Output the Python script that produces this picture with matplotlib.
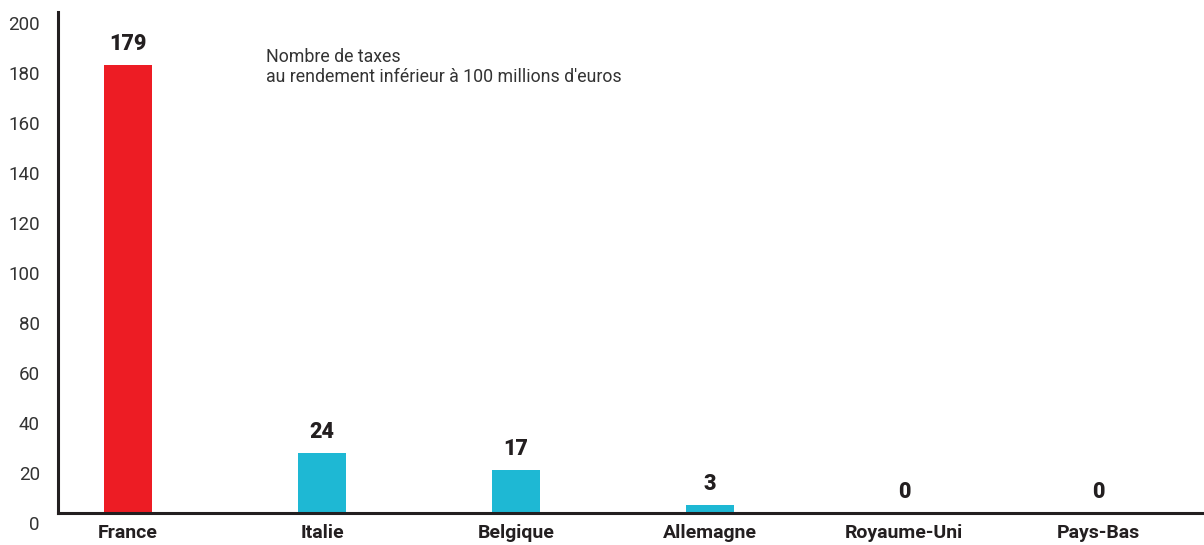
import numpy as np
import matplotlib
matplotlib.use("Agg")
import matplotlib.pyplot as plt
import matplotlib.transforms as mtransforms

# Données
pays = ["France", "Italie", "Belgique", "Allemagne", "Royaume-Uni", "Pays-Bas"]
nb_taxes = [179, 24, 17, 3, 0, 0]
couleurs = ["#ED1C24", "#1EB8D4", "#1EB8D4", "#1EB8D4", "#1EB8D4", "#1EB8D4"]
yticks = [0, 20, 40, 60, 80, 100, 120, 140, 160, 180, 200]

plt.rcParams['font.family'] = ['Roboto', 'DejaVu Sans']
texte = "#231F20"

fig = plt.figure(figsize=(12.04, 5.45), dpi=100)
ax = fig.add_axes([58 / 1204, 1 - 512.7 / 545, 1146 / 1204, 500.7 / 545])

x = np.arange(len(pays))
bars = ax.bar(x, nb_taxes, width=0.247, color=couleurs, zorder=2)
for xi, v in zip(x, nb_taxes):
    ax.annotate(str(v), (xi, v), xytext=(0, 15), textcoords="offset points",
                ha="center", va="center", fontsize=15.5, fontweight="heavy", color=texte)

ax.set_xlim(-0.361, 5.546)
ax.set_ylim(0, 200)
ax.set_yticks(yticks)
ax.set_yticklabels([str(t) for t in yticks], fontsize=13.5, color="#333333")
ax.set_xticks(x)
ax.set_xticklabels(pays, fontsize=14, fontweight="bold", color=texte)
ax.tick_params(axis="y", length=0, pad=13)
ax.tick_params(axis="x", length=0, pad=8)

# les libellés de l'axe y sont décalés vers le bas dans l'original
decal = mtransforms.ScaledTranslation(0, -10.5 / 100, fig.dpi_scale_trans)
for lab in ax.get_yticklabels():
    lab.set_transform(lab.get_transform() + decal)

for s in ["top", "right"]:
    ax.spines[s].set_visible(False)
for s in ["left", "bottom"]:
    ax.spines[s].set_linewidth(2.2)
    ax.spines[s].set_color(texte)
    ax.spines[s].set_zorder(3)

fig.text(266 / 1204, 1 - 67 / 545, "Nombre de taxes\nau rendement inférieur à 100 millions d'euros",
         fontsize=12.8, color="#333333", ha="left", va="center", linespacing=1.15)

fig.savefig("out.png", dpi=100)
